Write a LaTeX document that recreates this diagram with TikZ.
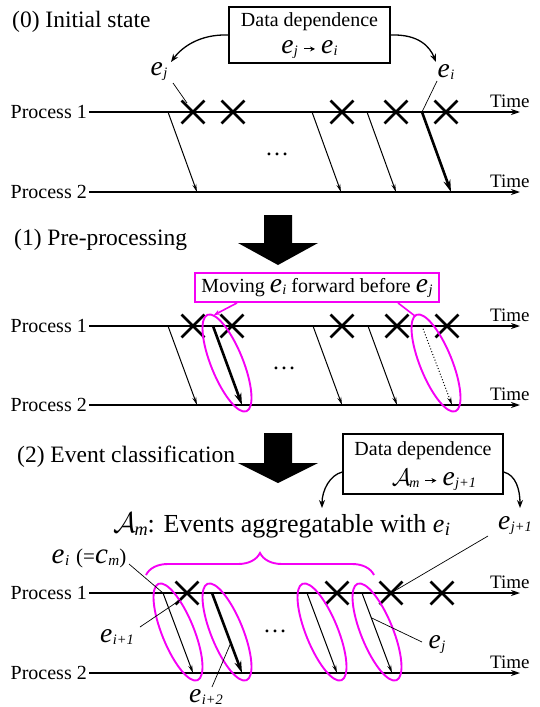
\documentclass[tikz,border=0pt]{standalone}
\usepackage{fontspec}
\setmainfont{Liberation Serif}
\usepackage{graphicx}
\usetikzlibrary{arrows.meta,decorations.pathreplacing,shapes.geometric,shapes.misc,calc}

\definecolor{mag}{RGB}{245,0,245}
\newcommand\ev[2][1.38]{{\itshape\scalebox{#1}{e}\kern0.02em\raisebox{-0.22ex}{\scalebox{0.72}{#2}}}}
\newcommand\cv[2][1.38]{{\itshape\scalebox{#1}{c}\kern0.02em\raisebox{-0.22ex}{\scalebox{0.72}{#2}}}}
\newcommand\Am{{\scalebox{1.15}{$\mathcal{A}$}\kern-0.08em\raisebox{-0.25ex}{\scalebox{0.7}{\itshape m}}}}
\newcommand\sarr{\tikz[baseline=-5pt]\draw[line width=1pt,-{Stealth[length=5pt,width=5pt]}] (0pt,0pt)--(11pt,0pt);}

\tikzset{
  proc/.style={line width=1.7pt,-{Stealth[length=9pt,width=6pt]}},
  msg/.style={line width=1pt,-{Stealth[length=8pt,width=4pt]}},
  msgb/.style={line width=2.6pt,-{Stealth[length=12pt,width=7pt]}},
  msgd/.style={line width=1pt,dotted,-{Stealth[length=8pt,width=4pt]}},
  xmark/.style={cross out,draw,line width=2.8pt,minimum size=20pt,inner sep=0pt},
  txt/.style={inner sep=0pt,font=\fontsize{19}{19}\selectfont},
  ptxt/.style={inner sep=0pt,font=\fontsize{20}{20}\selectfont},
  dtxt/.style={inner sep=0pt,font=\fontsize{20}{20}\selectfont},
  lbl/.style={inner sep=0pt,font=\fontsize{20}{20}\selectfont},
  head/.style={inner sep=0pt,font=\fontsize{23.5}{23.5}\selectfont},
  dotsn/.style={inner sep=0pt,font=\fontsize{24}{24}\selectfont},
  ptr/.style={line width=0.7pt},
  ddbox/.style={draw,line width=1.3pt,inner sep=0pt},
  grp/.style={draw=mag,line width=1.9pt,ellipse,inner sep=0pt,minimum width=32pt,minimum height=104pt,rotate=22},
  curv/.style={line width=1.3pt,-{Stealth[length=8pt,width=6pt]}},
  mptr/.style={draw=mag,line width=1.6pt},
  bigarrow/.style={fill=black}
}

\begin{document}
\begin{tikzpicture}[x=1pt,y=-1pt]
\useasboundingbox (0,0) rectangle (540,707);

%% ---------- (0) Initial state ----------
\node[head,anchor=base west] (h0) at (12,27) {(0) Initial state};
\node[ddbox,minimum width=161pt,minimum height=56pt] (dd1) at (309.5,35) {};
\node[dtxt] (dd1a) at (309.5,22) {Data dependence};
\node[dtxt] (dd1b) at (309.5,50) {\ev{j}\;\sarr\;\ev{i}};
\node[lbl] (ej0) at (159,72) {\ev{j}};
\node[lbl] (ei0) at (446,72) {\ev{i}};
\coordinate (ta0) at (171,62);
\coordinate (tb0) at (436,62);
\draw[curv] (dd1.west) .. controls (200,34) and (182,47) .. (ta0);
\draw[curv] (dd1.east) .. controls (419,34) and (430,47) .. (tb0);

\coordinate (p01s) at (89,112); \coordinate (p01e) at (520,112);
\coordinate (p02s) at (89,192); \coordinate (p02e) at (520,192);
\draw[proc] (p01s) -- (p01e);
\draw[proc] (p02s) -- (p02e);
\node[ptxt,anchor=east] (l01) at (87,112) {Process 1};
\node[ptxt,anchor=east] (l02) at (87,192) {Process 2};
\node[txt,anchor=base west] (t01) at (490,107) {Time};
\node[txt,anchor=base west] (t02) at (490,187) {Time};
\foreach \x [count=\i] in {193,233,342,396,446} \node[xmark] (c0\i) at (\x,112) {};
\foreach \x [count=\i] in {168,312,367} {
  \coordinate (ms0\i) at (\x,112); \coordinate (me0\i) at (\x+29,192);
  \draw[msg] (ms0\i) -- (me0\i);
}
\coordinate (ms04) at (422,112); \coordinate (me04) at (451,192);
\draw[msgb] (ms04) -- (me04);
\node[dotsn] (d0) at (277,154) {…};
\coordinate (pj0) at (173,83); \coordinate (pj0e) at (187,103);
\draw[ptr] (pj0) -- (pj0e);
\coordinate (pi0) at (437,81);
\draw[ptr] (pi0) -- (ms04);

%% big arrow 0 -> 1
\fill[bigarrow] (264,215) -- (292,215) -- (292,243) -- (318,243) -- (278,265) -- (238,243) -- (264,243) -- cycle;

%% ---------- (1) Pre-processing ----------
\node[head,anchor=base west] (h1) at (14,245) {(1) Pre-processing};
\node[dtxt,draw=mag,line width=1.9pt,minimum width=244pt,minimum height=29pt] (mv) at (317,287.5) {Moving \ev{i} forward before \ev{j}};

\coordinate (p11s) at (89,326); \coordinate (p11e) at (520,326);
\coordinate (p12s) at (89,405); \coordinate (p12e) at (520,405);
\draw[proc] (p11s) -- (p11e);
\draw[proc] (p12s) -- (p12e);
\node[ptxt,anchor=east] (l11) at (87,326) {Process 1};
\node[ptxt,anchor=east] (l12) at (87,405) {Process 2};
\node[txt,anchor=base west] (t11) at (490,321) {Time};
\node[txt,anchor=base west] (t12) at (490,400) {Time};
\foreach \x [count=\i] in {193,232,342,397,447} \node[xmark] (c1\i) at (\x,326) {};
\foreach \x [count=\i] in {168,313,368} {
  \coordinate (ms1\i) at (\x,326); \coordinate (me1\i) at (\x+29,405);
  \draw[msg] (ms1\i) -- (me1\i);
}
\coordinate (ms14) at (213,326); \coordinate (me14) at (242,405);
\draw[msgb] (ms14) -- (me14);
\coordinate (ms15) at (422,326); \coordinate (me15) at (452,405);
\draw[msgd] (ms15) -- (me15);
\node[grp] (g11) at (227,363) {};
\node[grp] (g12) at (436,363) {};
\coordinate (g11t) at (214,315);
\coordinate (g12t) at (415,316);
\draw[mptr,-{Stealth[length=6pt,width=5pt]}] (mv.south -| 237,0) -- (g11t);
\draw[mptr] (mv.south -| 398,0) -- (g12t);
\node[dotsn] (d1) at (284,368) {…};

%% big arrow 1 -> 2
\fill[bigarrow] (264,433) -- (292,433) -- (292,463) -- (318,463) -- (278,483) -- (238,463) -- (264,463) -- cycle;

%% ---------- (2) Event classification ----------
\node[head,anchor=base west] (h2) at (17,462) {(2) Event classification};
\node[ddbox,minimum width=160pt,minimum height=60pt] (dd2) at (423,464) {};
\node[dtxt] (dd2a) at (423,451) {Data dependence};
\node[dtxt] (dd2b) at (434,480) {\Am\;\sarr\;\ev{j+1}};
\coordinate (ta2) at (322,508);
\coordinate (tb2) at (520,508);
\draw[curv] (dd2.west |- 0,472) .. controls (330,475) and (322,490) .. (ta2);
\draw[curv] (dd2.east |- 0,472) .. controls (516,475) and (520,490) .. (tb2);

\node[inner sep=0pt,font=\fontsize{26}{26}\selectfont] (am) at (282,526) {\Am: Events aggregatable with \ev[1.0]{i}};
\node[lbl] (ej1) at (515,526) {\ev{j+1}};
\coordinate (br1) at (146,575); \coordinate (br2) at (374,575);
\draw[mag,line width=1.9pt,decorate,decoration={brace,amplitude=22pt}] (br1) -- (br2);

\coordinate (p21s) at (89,593); \coordinate (p21e) at (520,593);
\coordinate (p22s) at (89,673); \coordinate (p22e) at (520,673);
\draw[proc] (p21s) -- (p21e);
\draw[proc] (p22s) -- (p22e);
\node[ptxt,anchor=east] (l21) at (87,593) {Process 1};
\node[ptxt,anchor=east] (l22) at (87,673) {Process 2};
\node[txt,anchor=base west] (t21) at (490,588) {Time};
\node[txt,anchor=base west] (t22) at (490,668) {Time};
\foreach \x [count=\i] in {187,337,391,442} \node[xmark] (c2\i) at (\x,593) {};
\foreach \x [count=\i] in {163,307,362} {
  \coordinate (ms2\i) at (\x,593); \coordinate (me2\i) at (\x+30,673);
  \draw[msg] (ms2\i) -- (me2\i);
}
\coordinate (ms24) at (212,593); \coordinate (me24) at (242,673);
\draw[msgb] (ms24) -- (me24);
\node[grp] (g21) at (178,632) {};
\node[grp] (g22) at (227,632) {};
\node[grp] (g23) at (322,632) {};
\node[grp] (g24) at (377,632) {};
\node[dotsn] (d2) at (275,631) {…};

\node[lbl,font=\fontsize{21}{21}\selectfont] (eic) at (89,558) {\ev{i}\,\,(=\cv{m})};
\node[lbl] (ei1) at (117,637) {\ev{i+1}};
\node[lbl] (ei2) at (206,697) {\ev{i+2}};
\node[lbl] (ejj) at (437,645) {\ev{j}};

\coordinate (q1) at (129,564);
\draw[ptr] (q1) -- (ms21);
\coordinate (q2) at (140,627); \coordinate (q2e) at (183,598);
\draw[ptr] (q2) -- (q2e);
\coordinate (q3) at (212,687);
\draw[ptr] (q3) -- ($(ms24)!0.625!(me24)$);
\coordinate (q4) at (422,642);
\draw[ptr] (q4) -- ($(ms23)!0.31!(me23)$);
\coordinate (q5) at (488,536);
\draw[ptr] (q5) -- (c23.center);
\end{tikzpicture}
\end{document}
